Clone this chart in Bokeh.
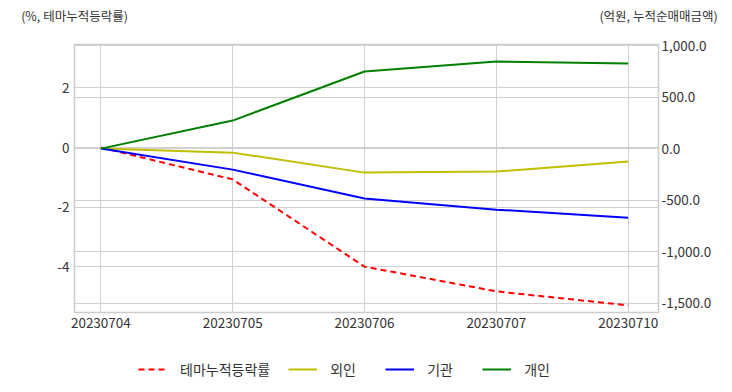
from bokeh.plotting import figure
from bokeh.models import (Range1d, LinearAxis, FixedTicker, NumeralTickFormatter,
                          Grid, Legend, LegendItem, ColumnDataSource)
from bokeh.layouts import column
from bokeh.embed import file_html
from bokeh.resources import INLINE

dates = ["20230704", "20230705", "20230706", "20230707", "20230710"]
theme_pct = [0.0, -1.07, -4.0, -4.83, -5.3]
foreign = [0.0, -39.0, -233.0, -223.0, -126.0]
institution = [0.0, -204.0, -485.0, -592.0, -670.0]
individual = [0.0, 272.0, 748.0, 845.0, 825.0]
left_ticks = [-4, -2, 0, 2]
right_ticks = [-1500, -1000, -500, 0, 500, 1000]
left_title = "(%, 테마누적등락률)"
right_title = "(억원, 누적순매매금액)"
series_names = ["테마누적등락률", "외인", "기관", "개인"]

FONT = "Noto Sans CJK KR"
W = 732
xs = list(range(len(dates)))
src = ColumnDataSource(dict(x=xs, theme=theme_pct, foreign=foreign,
                            inst=institution, indiv=individual))

styles = [dict(line_color="#ff0000", line_width=2, line_dash="6 4"),
          dict(line_color="#bfbf00", line_width=2),
          dict(line_color="#0000ff", line_width=2),
          dict(line_color="#008000", line_width=2)]
cols = ["theme", "foreign", "inst", "indiv"]

# ---------------- main chart ----------------
p = figure(width=W, height=346, output_backend="svg", toolbar_location=None,
           x_range=Range1d(-0.2, 4.23), y_range=Range1d(-5.54, 3.46),
           min_border_left=74, min_border_right=74, min_border_top=44,
           min_border_bottom=34)
p.extra_y_ranges = {"right": Range1d(-1590, 1010)}
p.extra_x_ranges = {"hdr": Range1d(0, 1)}

p.outline_line_color = "#cccccc"
p.outline_line_width = 1.5

xaxis = p.below[0]
yaxis = p.left[0]
xaxis.ticker = FixedTicker(ticks=xs)
xaxis.major_label_overrides = {i: d for i, d in enumerate(dates)}
yaxis.ticker = FixedTicker(ticks=left_ticks)
yaxis.formatter = NumeralTickFormatter(format="0")

right = LinearAxis(y_range_name="right", ticker=FixedTicker(ticks=right_ticks),
                   formatter=NumeralTickFormatter(format="0,0.0"))
p.add_layout(right, "right")

hdr = LinearAxis(x_range_name="hdr", ticker=FixedTicker(ticks=[0, 1]),
                 major_label_overrides={0: left_title, 1: right_title})
p.add_layout(hdr, "above")

for ax in [xaxis, yaxis, right, hdr]:
    ax.axis_line_color = None
    ax.major_tick_line_color = None
    ax.minor_tick_line_color = None
    ax.major_tick_out = 0
    ax.major_tick_in = 0
    ax.minor_tick_out = 0
    ax.major_label_text_font = FONT
    ax.major_label_text_color = "#333333"
for ax in [xaxis, yaxis, right]:
    ax.major_label_text_font_size = "13.5px"
xaxis.major_label_standoff = 5
yaxis.major_label_standoff = 5
right.major_label_standoff = 3
hdr.major_label_text_font_size = "12.5px"
hdr.major_label_standoff = 20

p.xgrid.grid_line_color = "#d0d0d0"
p.ygrid.grid_line_color = "#d0d0d0"
g2 = Grid(dimension=1, ticker=right.ticker, y_range_name="right", grid_line_color="#d0d0d0")
p.add_layout(g2)

p.line("x", cols[0], source=src, **styles[0])
for c, st in zip(cols[1:], styles[1:]):
    p.line("x", c, source=src, y_range_name="right", **st)

# ---------------- legend strip ----------------
lg = figure(width=W, height=46, output_backend="svg", toolbar_location=None,
            x_range=Range1d(0, 1), y_range=Range1d(50000, 50001),
            min_border_left=74, min_border_right=74, min_border_top=0,
            min_border_bottom=0, outline_line_color=None)
lg.axis.visible = False
lg.grid.visible = False
lg_renderers = [lg.line("x", c, source=src, **st) for c, st in zip(cols, styles)]

legend = Legend(items=[LegendItem(label=n, renderers=[r]) for n, r in zip(series_names, lg_renderers)],
                orientation="horizontal", location=(64, 13))
legend.label_text_font = FONT
legend.label_text_font_size = "14px"
legend.label_text_color = "#333333"
legend.border_line_color = None
legend.background_fill_alpha = 0
legend.glyph_width = 29
legend.glyph_height = 20
legend.label_standoff = 13
legend.label_width = 37
legend.label_height = 20
legend.spacing = 18
legend.padding = 0
legend.margin = 0
lg.add_layout(legend)

open("out.html", "w").write(file_html(column(p, lg, spacing=0), INLINE))
